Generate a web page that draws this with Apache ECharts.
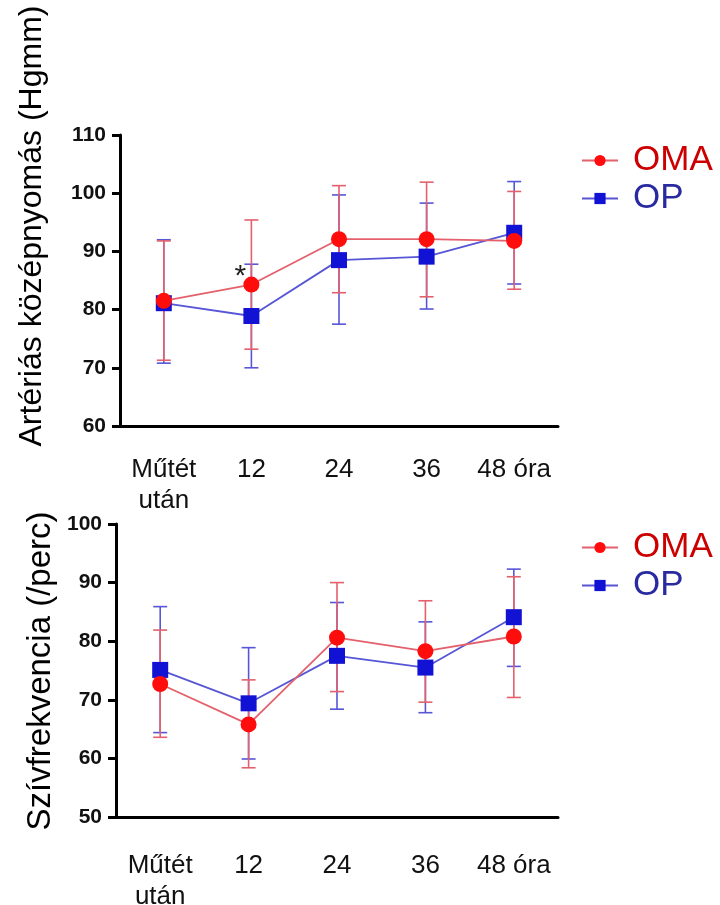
<!DOCTYPE html>
<html lang="hu">
<head>
  <meta charset="UTF-8">
  <title>OMA / OP</title>
  <script src="https://cdn.jsdelivr.net/npm/echarts@6/dist/echarts.min.js"></script>
  <style>
    html, body { margin: 0; padding: 0; background: #fff; }
    #chart { width: 720px; height: 905px; }
  </style>
</head>
<body>
<div id="chart"></div>
<script>
  // idopontok
  var categories = ['Műtét\nután', '12', '24', '36', '48 óra'];

  // artérias középnyomás
  var mapOMA = [81.5, 84.3, 92.1, 92.1, 91.8];
  var mapOMALow = [71.3, 73.2, 82.9, 82.2, 83.5];
  var mapOMAHigh = [91.8, 95.4, 101.3, 101.9, 100.3];
  var mapOP = [81.1, 78.9, 88.5, 89.1, 93.2];
  var mapOPLow = [70.8, 70.0, 77.5, 80.1, 84.4];
  var mapOPHigh = [92.0, 87.8, 99.7, 98.3, 102.0];
  var mapStars = ['', '*', '', '', ''];

  // szívfrekvencia
  var hrOMA = [72.7, 65.8, 80.6, 78.3, 80.8];
  var hrOMALow = [63.6, 58.4, 71.4, 69.6, 70.4];
  var hrOMAHigh = [81.9, 73.4, 90.0, 86.9, 91.0];
  var hrOP = [75.1, 69.4, 77.5, 75.5, 84.1];
  var hrOPLow = [64.4, 59.9, 68.4, 67.8, 75.7];
  var hrOPHigh = [85.9, 78.9, 86.6, 83.3, 92.3];

  var RED = '#ff0d0d', RED_LINE = '#e4606c';
  var BLUE = '#1212d4', BLUE_LINE = '#5656d6';
  var FONT = '"Liberation Sans", Arial, sans-serif';

  function errorSeries(idx, low, high, color) {
    var data = low.map(function (v, i) { return [i, v, high[i]]; });
    return {
      type: 'custom',
      xAxisIndex: idx,
      yAxisIndex: idx,
      silent: true,
      z: 3,
      data: data,
      renderItem: function (params, api) {
        var x = api.value(0);
        var lo = api.coord([x, api.value(1)]);
        var hi = api.coord([x, api.value(2)]);
        var w = 7;
        var st = { stroke: color, lineWidth: 1.6 };
        return {
          type: 'group',
          children: [
            { type: 'line', shape: { x1: lo[0], y1: lo[1], x2: hi[0], y2: hi[1] }, style: st },
            { type: 'line', shape: { x1: lo[0] - w, y1: lo[1], x2: lo[0] + w, y2: lo[1] }, style: st },
            { type: 'line', shape: { x1: hi[0] - w, y1: hi[1], x2: hi[0] + w, y2: hi[1] }, style: st }
          ]
        };
      }
    };
  }

  function lineSeries(idx, name, values, symbol, color, lineColor, z, stars) {
    var data = values.map(function (v, i) {
      if (stars && stars[i]) {
        return {
          value: v,
          label: {
            show: true, formatter: stars[i], position: 'top', offset: [-11, 20],
            fontSize: 30, color: '#222', fontFamily: FONT
          }
        };
      }
      return v;
    });
    return {
      name: name,
      type: 'line',
      xAxisIndex: idx,
      yAxisIndex: idx,
      data: data,
      symbol: symbol,
      symbolSize: 16,
      z: z,
      itemStyle: { color: color },
      lineStyle: { color: lineColor, width: 1.8 },
      emphasis: { disabled: true }
    };
  }

  function yAxis(idx, min, max) {
    return {
      type: 'value',
      gridIndex: idx,
      min: min,
      max: max,
      interval: 10,
      splitLine: { show: false },
      axisLine: { show: true, lineStyle: { color: '#000', width: 3 } },
      axisTick: { show: true, length: 8, lineStyle: { color: '#000', width: 3 } },
      axisLabel: { color: '#111', fontSize: 21, fontWeight: 'bold', fontFamily: FONT, margin: 14 }
    };
  }

  function xAxis(idx, margin) {
    return {
      type: 'category',
      gridIndex: idx,
      data: categories,
      axisLine: { lineStyle: { color: '#000', width: 3 } },
      axisTick: { alignWithLabel: true, length: 10, lineStyle: { color: '#000', width: 3 } },
      axisLabel: { color: '#111', fontSize: 26, fontFamily: FONT, margin: margin, lineHeight: 31, interval: 0 }
    };
  }

  function legend(top, idx) {
    return {
      left: 576,
      top: top,
      orient: 'vertical',
      itemWidth: 36,
      itemHeight: 14,
      itemGap: 3,
      selectedMode: false,
      textStyle: { fontSize: 35, fontFamily: FONT, padding: [0, 0, 0, 10] },
      data: [
        { name: 'OMA' + idx, textStyle: { color: '#cc0000' } },
        { name: 'OP' + idx, textStyle: { color: '#2a2aa0' } }
      ],
      formatter: function (n) { return n.replace(/\d$/, ''); }
    };
  }

  var chart = echarts.init(document.getElementById('chart'), null, { renderer: 'canvas' });
  chart.setOption({
    backgroundColor: '#fff',
    animation: false,
    grid: [
      { left: 120, top: 135, width: 438, height: 291, outerBoundsMode: 'none' },
      { left: 116, top: 524, width: 442, height: 293, outerBoundsMode: 'none' }
    ],
    xAxis: [xAxis(0, 28), xAxis(1, 33)],
    yAxis: [yAxis(0, 60, 110), yAxis(1, 50, 100)],
    legend: [legend(138, 0), legend(525, 1)],
    graphic: [
      {
        type: 'text', x: 32, y: 226, rotation: Math.PI / 2,
        style: {
          text: 'Artériás középnyomás (Hgmm)', fill: '#000', fontSize: 32, fontFamily: FONT,
          textAlign: 'center', textVerticalAlign: 'middle'
        }
      },
      {
        type: 'text', x: 41, y: 671, rotation: Math.PI / 2,
        style: {
          text: 'Szívfrekvencia (/perc)', fill: '#000', fontSize: 33, fontFamily: FONT,
          textAlign: 'center', textVerticalAlign: 'middle'
        }
      }
    ],
    series: [
      errorSeries(0, mapOPLow, mapOPHigh, BLUE_LINE),
      errorSeries(0, mapOMALow, mapOMAHigh, RED_LINE),
      lineSeries(0, 'OP0', mapOP, 'rect', BLUE, BLUE_LINE, 4),
      lineSeries(0, 'OMA0', mapOMA, 'circle', RED, RED_LINE, 5, mapStars),
      errorSeries(1, hrOPLow, hrOPHigh, BLUE_LINE),
      errorSeries(1, hrOMALow, hrOMAHigh, RED_LINE),
      lineSeries(1, 'OP1', hrOP, 'rect', BLUE, BLUE_LINE, 4),
      lineSeries(1, 'OMA1', hrOMA, 'circle', RED, RED_LINE, 5)
    ]
  });
</script>
</body>
</html>
